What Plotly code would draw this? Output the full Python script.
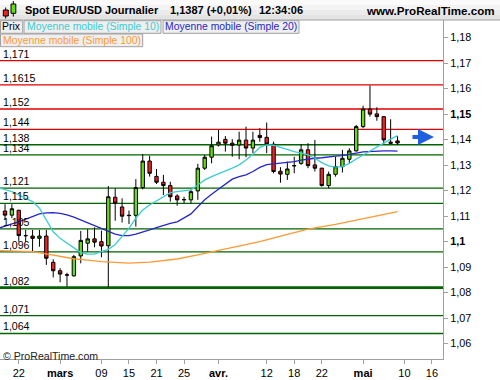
import plotly.graph_objects as go

# ---------------- data ----------------
dates = ["2016-02-18", "2016-02-19", "2016-02-22", "2016-02-23", "2016-02-24", "2016-02-25",
         "2016-02-26", "2016-02-29", "2016-03-01", "2016-03-02", "2016-03-03", "2016-03-04",
         "2016-03-07", "2016-03-08", "2016-03-09", "2016-03-10", "2016-03-11", "2016-03-14",
         "2016-03-15", "2016-03-16", "2016-03-17", "2016-03-18", "2016-03-21", "2016-03-22",
         "2016-03-23", "2016-03-24", "2016-03-25", "2016-03-28", "2016-03-29", "2016-03-30",
         "2016-03-31", "2016-04-01", "2016-04-04", "2016-04-05", "2016-04-06", "2016-04-07",
         "2016-04-08", "2016-04-11", "2016-04-12", "2016-04-13", "2016-04-14", "2016-04-15",
         "2016-04-18", "2016-04-19", "2016-04-20", "2016-04-21", "2016-04-22", "2016-04-25",
         "2016-04-26", "2016-04-27", "2016-04-28", "2016-04-29", "2016-05-02", "2016-05-03",
         "2016-05-04", "2016-05-05", "2016-05-06", "2016-05-09"]

opens = [1.1120, 1.1104, 1.1123, 1.1023, 1.1022, 1.1013, 1.1022, 1.0919, 1.0886, 1.0870,
         1.0866, 1.0944, 1.0994, 1.1011, 1.1000, 1.0984, 1.1174, 1.1136, 1.1102, 1.1103,
         1.1212, 1.1316, 1.1256, 1.1233, 1.1220, 1.1179, 1.1164, 1.1164, 1.1199, 1.1288,
         1.1331, 1.1379, 1.1401, 1.1386, 1.1379, 1.1398, 1.1367, 1.1417, 1.1409, 1.1382,
         1.1276, 1.1264, 1.1297, 1.1307, 1.1360, 1.1301, 1.1288, 1.1220, 1.1264, 1.1294,
         1.1323, 1.1356, 1.1451, 1.1520, 1.1501, 1.1490, 1.1390, 1.1395]
highs = [1.1147, 1.1147, 1.1125, 1.1046, 1.1046, 1.1046, 1.1046, 1.0931, 1.0896, 1.0878,
         1.0948, 1.1042, 1.1049, 1.1056, 1.1043, 1.1218, 1.1209, 1.1170, 1.1122, 1.1245,
         1.1343, 1.1337, 1.1285, 1.1262, 1.1235, 1.1186, 1.1176, 1.1203, 1.1305, 1.1340,
         1.1412, 1.1438, 1.1414, 1.1402, 1.1431, 1.1451, 1.1431, 1.1445, 1.1467, 1.1392,
         1.1292, 1.1314, 1.1333, 1.1383, 1.1386, 1.1399, 1.1290, 1.1275, 1.1333, 1.1360,
         1.1366, 1.1458, 1.1533, 1.1612, 1.1527, 1.1493, 1.1480, 1.1414]
lows = [1.1085, 1.1092, 1.1000, 1.1000, 1.0961, 1.0980, 1.0909, 1.0860, 1.0841, 1.0824,
        1.0863, 1.0915, 1.0961, 1.0978, 1.0939, 1.0822, 1.1082, 1.1075, 1.1069, 1.1059,
        1.1205, 1.1255, 1.1226, 1.1183, 1.1157, 1.1141, 1.1151, 1.1150, 1.1164, 1.1281,
        1.1307, 1.1373, 1.1353, 1.1333, 1.1323, 1.1331, 1.1347, 1.1392, 1.1347, 1.1268,
        1.1231, 1.1242, 1.1268, 1.1301, 1.1288, 1.1275, 1.1216, 1.1209, 1.1255, 1.1271,
        1.1307, 1.1353, 1.1445, 1.1490, 1.1474, 1.1383, 1.1386, 1.1379]
closes = [1.1104, 1.1129, 1.1024, 1.1024, 1.1013, 1.1022, 1.0935, 1.0886, 1.0873, 1.0869,
          1.0941, 1.1005, 1.1011, 1.0998, 1.0983, 1.1176, 1.1151, 1.1100, 1.1103, 1.1212,
          1.1316, 1.1268, 1.1233, 1.1220, 1.1176, 1.1164, 1.1165, 1.1196, 1.1288, 1.1331,
          1.1376, 1.1390, 1.1386, 1.1378, 1.1398, 1.1367, 1.1398, 1.1408, 1.1383, 1.1275,
          1.1265, 1.1285, 1.1298, 1.1360, 1.1298, 1.1288, 1.1220, 1.1264, 1.1294, 1.1327,
          1.1356, 1.1451, 1.1520, 1.1500, 1.1490, 1.1399, 1.1386, 1.1387]

ma_dates = ["2016-02-17"] + dates
sma10 = [1.1212, 1.1203, 1.1196, 1.1183, 1.1170, 1.1157, 1.1131, 1.1085, 1.1039, 1.1013,
         1.0994, 1.0974, 1.0957, 1.0951, 1.0951, 1.0961, 1.0970, 1.0989, 1.1020, 1.1052,
         1.1092, 1.1124, 1.1144, 1.1161, 1.1176, 1.1192, 1.1196, 1.1199, 1.1203, 1.1222,
         1.1242, 1.1255, 1.1265, 1.1277, 1.1288, 1.1301, 1.1320, 1.1343, 1.1370, 1.1379,
         1.1378, 1.1370, 1.1360, 1.1353, 1.1347, 1.1340, 1.1327, 1.1310, 1.1297, 1.1292,
         1.1294, 1.1307, 1.1324, 1.1340, 1.1356, 1.1370, 1.1386, 1.1402, 1.1416]
sma20 = [1.1052, 1.1062, 1.1070, 1.1078, 1.1088, 1.1098, 1.1109, 1.1113, 1.1114, 1.1111,
         1.1105, 1.1096, 1.1085, 1.1076, 1.1063, 1.1052, 1.1040, 1.1030, 1.1024, 1.1024,
         1.1030, 1.1037, 1.1046, 1.1055, 1.1065, 1.1072, 1.1078, 1.1092, 1.1109, 1.1137,
         1.1164, 1.1186, 1.1205, 1.1226, 1.1245, 1.1255, 1.1262, 1.1275, 1.1291, 1.1302,
         1.1305, 1.1307, 1.1310, 1.1314, 1.1320, 1.1324, 1.1327, 1.1329, 1.1333, 1.1335,
         1.1337, 1.1341, 1.1347, 1.1352, 1.1354, 1.1356, 1.1356, 1.1356, 1.1355]
sma100_dates = ["2016-02-17", "2016-02-18", "2016-02-22", "2016-02-24", "2016-02-26",
                "2016-03-01", "2016-03-03", "2016-03-07", "2016-03-09", "2016-03-11",
                "2016-03-15", "2016-03-18", "2016-03-24", "2016-03-29", "2016-04-01",
                "2016-04-06", "2016-04-11", "2016-04-14", "2016-04-20", "2016-04-26",
                "2016-04-29", "2016-05-04", "2016-05-09"]
sma100 = [1.0965, 1.0964, 1.0963, 1.0961, 1.0952, 1.0941, 1.0933, 1.0928, 1.0922, 1.0919,
          1.0916, 1.0920, 1.0932, 1.0948, 1.0965, 1.0984, 1.1000, 1.1022, 1.1049, 1.1068,
          1.1085, 1.1103, 1.1118]

red_levels = [1.171, 1.1615, 1.152, 1.144]
green_levels = [1.138, 1.134, 1.121, 1.115, 1.105, 1.096, 1.082, 1.071, 1.064]
thick_level = 1.082

x_tick_dates = ["2016-02-22", "2016-03-01", "2016-03-09", "2016-03-15", "2016-03-21",
                "2016-03-25", "2016-04-01", "2016-04-12", "2016-04-18", "2016-04-22",
                "2016-05-02", "2016-05-10", "2016-05-16"]
x_tick_text = ["22", "<b>mars</b>", "09", "15", "21", "25", "<b>avr.</b>", "12", "18", "22",
               "<b>mai</b>", "10", "16"]
y_ticks = [1.06, 1.07, 1.08, 1.09, 1.10, 1.11, 1.12, 1.13, 1.14, 1.15, 1.16, 1.17, 1.18]
y_tick_text = ["1,06", "1,07", "1,08", "1,09", "<b>1,1</b>", "1,11", "1,12", "1,13", "1,14",
               "<b>1,15</b>", "1,16", "1,17", "1,18"]

header_items = ["Spot EUR/USD", "Journalier", "1,1387 (+0,01%)", "12:34:06"]
site_text = "www.ProRealTime.com"
arrow_price = 1.141

# ---------------- styling ----------------
FONT = "Liberation Sans, Arial, sans-serif"
C_UP = "#66DD11"
C_DN = "#EE2222"
C_RED = "#E00000"
C_GREEN = "#006400"
C_MA10 = "#3CCCD2"
C_MA20 = "#2626C8"
C_MA100 = "#FF9933"
C_AXIS = "#A0A0A0"

W, H = 500, 380
ML, MR, MT, MB = 0, 57, 20, 21
PW, PH = W - ML - MR, H - MT - MB


def PX(x):
    return (x - ML) / PW


def PY(y):
    return (H - MB - y) / PH


fig = go.Figure()

fig.add_trace(go.Candlestick(
    x=dates, open=opens, high=highs, low=lows, close=closes,
    increasing=dict(line=dict(color="black", width=1), fillcolor=C_UP),
    decreasing=dict(line=dict(color="black", width=1), fillcolor=C_DN),
    whiskerwidth=0, showlegend=False, hoverinfo="skip"))

fig.add_trace(go.Scatter(x=sma100_dates, y=sma100, mode="lines",
                         line=dict(color=C_MA100, width=1.3), showlegend=False))
fig.add_trace(go.Scatter(x=ma_dates, y=sma20, mode="lines",
                         line=dict(color=C_MA20, width=1.3), showlegend=False))
fig.add_trace(go.Scatter(x=ma_dates, y=sma10, mode="lines",
                         line=dict(color=C_MA10, width=1.3), showlegend=False))

shapes = []
annotations = []

# horizontal levels + labels
for lv in red_levels + green_levels:
    col = C_RED if lv in red_levels else C_GREEN
    w = 2.6 if lv == thick_level else 1.3
    shapes.append(dict(type="line", xref="paper", yref="y", x0=0, x1=1, y0=lv, y1=lv,
                       line=dict(color=col, width=w), layer="below"))
    annotations.append(dict(xref="paper", yref="y", x=0, y=lv, xanchor="left",
                            yanchor="bottom", xshift=2, yshift=0, borderpad=0,
                            showarrow=False, text=str(lv).replace(".", ","),
                            font=dict(family=FONT, size=10.6, color="black")))

# header band
bands = ["#FBFBFB", "#F3F3F3", "#EBEBEB", "#E3E3E3"]
for k, c in enumerate(bands):
    shapes.append(dict(type="rect", xref="paper", yref="paper",
                       x0=PX(0), x1=PX(W), y0=PY(5 * (k + 1)), y1=PY(5 * k),
                       fillcolor=c, line=dict(width=0), layer="above"))
shapes.append(dict(type="line", xref="paper", yref="paper", x0=PX(0), x1=PX(W),
                   y0=PY(20), y1=PY(20), line=dict(color=C_AXIS, width=1)))

# header icon
shapes.append(dict(type="line", xref="paper", yref="paper", x0=PX(5.7), x1=PX(5.7),
                   y0=PY(18.5), y1=PY(7.5), line=dict(color="black", width=1)))
shapes.append(dict(type="rect", xref="paper", yref="paper", x0=PX(3.3), x1=PX(8.3),
                   y0=PY(16), y1=PY(10), fillcolor=C_DN, line=dict(color="black", width=1)))
shapes.append(dict(type="line", xref="paper", yref="paper", x0=PX(13.3), x1=PX(13.3),
                   y0=PY(16.5), y1=PY(1), line=dict(color="black", width=1)))
shapes.append(dict(type="rect", xref="paper", yref="paper", x0=PX(11), x1=PX(15.8),
                   y0=PY(13.3), y1=PY(4), fillcolor=C_UP, line=dict(color="black", width=1)))

hdr_y = PY(10.5)
for txt, lx in zip(header_items, [24, 104, 169, 258]):
    annotations.append(dict(xref="paper", yref="paper", x=PX(lx), y=hdr_y, xanchor="left",
                            yanchor="middle", showarrow=False, borderpad=0,
                            text="<b>" + txt + "</b>",
                            font=dict(family=FONT, size=11, color="black")))
annotations.append(dict(xref="paper", yref="paper", x=PX(496), y=hdr_y, xanchor="right",
                        yanchor="middle", showarrow=False, borderpad=0,
                        text="<b>" + site_text + "</b>",
                        font=dict(family=FONT, size=11.6, color="black")))

# legend boxes
boxes = [("Prix", "black", 0.5, 22.7, 20.7, 33.3),
         ("Moyenne mobile (Simple 10)", C_MA10, 24, 161, 20.7, 33.3),
         ("Moyenne mobile (Simple 20)", C_MA20, 163, 299, 20.7, 33.3),
         ("Moyenne mobile (Simple 100)", C_MA100, 0.5, 142.7, 34, 46.7)]
for txt, col, x0, x1, y0, y1 in boxes:
    shapes.append(dict(type="rect", xref="paper", yref="paper", x0=PX(x0), x1=PX(x1),
                       y0=PY(y1), y1=PY(y0), fillcolor="#EFEFEF",
                       line=dict(color=C_AXIS, width=1), layer="above"))
    annotations.append(dict(xref="paper", yref="paper", x=PX((x0 + x1) / 2),
                            y=PY((y0 + y1) / 2), xanchor="center", yanchor="middle",
                            showarrow=False, text=txt, borderpad=0,
                            font=dict(family=FONT, size=10.4, color=col)))

# copyright
annotations.append(dict(xref="paper", yref="paper", x=0, y=PY(355.5), xanchor="left",
                        yanchor="middle", xshift=2, showarrow=False, borderpad=0,
                        text="© ProRealTime.com",
                        font=dict(family=FONT, size=10.6, color="#222222")))

# blue arrow
annotations.append(dict(xref="paper", yref="y", x=PX(434), y=arrow_price, ax=-23, ay=0,
                        text="", showarrow=True, arrowhead=2, arrowsize=0.8,
                        arrowwidth=4, arrowcolor="#1F5FE0"))

fig.update_layout(
    width=W, height=H,
    margin=dict(l=ML, r=MR, t=MT, b=MB),
    paper_bgcolor="white", plot_bgcolor="white",
    font=dict(family=FONT, size=10.5, color="black"),
    shapes=shapes, annotations=annotations,
    showlegend=False,
    xaxis=dict(type="date", rangeslider=dict(visible=False),
               rangebreaks=[dict(bounds=["sat", "mon"])],
               range=["2016-02-17 06:30", "2016-05-17 14:30"],
               tickvals=x_tick_dates, ticktext=x_tick_text,
               ticks="outside", ticklen=4, tickcolor=C_AXIS,
               showline=True, linecolor=C_AXIS, linewidth=1,
               showgrid=False, zeroline=False,
               tickfont=dict(family=FONT, size=11, color="black")),
    yaxis=dict(side="right", range=[1.0540, 1.1869],
               tickvals=y_ticks, ticktext=y_tick_text,
               ticks="outside", ticklen=4, tickcolor=C_AXIS,
               showline=True, linecolor=C_AXIS, linewidth=1, mirror=True,
               showgrid=False, zeroline=False,
               tickfont=dict(family=FONT, size=10.8, color="black")),
)

fig.write_html("out.html")
